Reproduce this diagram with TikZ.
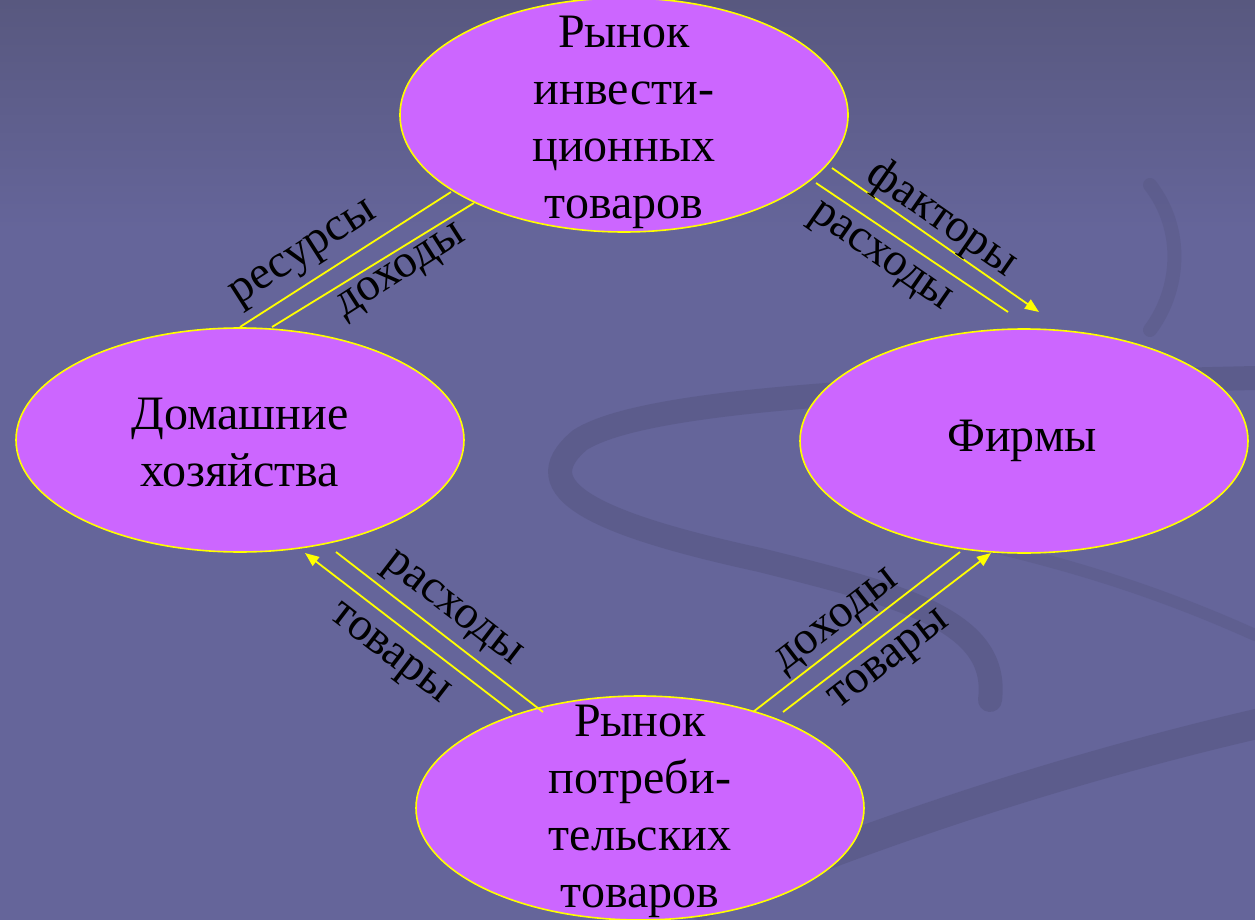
\documentclass[tikz,border=0pt]{standalone}
\usepackage{fontspec}
\setmainfont{Liberation Serif}
\usetikzlibrary{shapes.geometric,arrows.meta}
\definecolor{bgtop}{HTML}{58587F}
\definecolor{bgmid}{HTML}{65659A}
\definecolor{swirl}{HTML}{52527C}
\definecolor{oval}{HTML}{CC66FF}
\definecolor{ylw}{HTML}{FFFF00}
\tikzset{
  market/.style={ellipse, draw=ylw, line width=1.6pt, fill=oval, inner sep=0pt,
    minimum width=448pt, minimum height=224pt},
  txt/.style={align=center, font=\fontsize{48}{57}\selectfont, text=black, inner sep=0pt},
  lbl/.style={font=\fontsize{47}{55}\selectfont, text=black, inner sep=0pt},
  flow/.style={draw=ylw, line width=1.8pt},
  flowarr/.style={flow, -{Triangle[length=14pt,width=11pt]}},
}
\begin{document}
\begin{tikzpicture}[x=1pt,y=-1pt]
\useasboundingbox (0,0) rectangle (1255,920);
% background
\shade[top color=bgtop, bottom color=bgmid, middle color=bgmid, shading angle=0] (0,0) rectangle (1255,460);
\fill[bgmid] (0,459) rectangle (1255,920);
% decorative swirl
\begin{scope}[line cap=round]
\draw[swirl, line width=24pt, opacity=0.45] (1255,378) .. controls (950,385) and (650,395) .. (580,440)
   .. controls (520,490) and (600,525) .. (760,560) .. controls (900,595) and (1000,620) .. (990,700);
\draw[swirl, line width=14pt, opacity=0.3] (1150,185) .. controls (1185,230) and (1180,290) .. (1150,330);
\draw[swirl, line width=30pt, opacity=0.45] (700,905) .. controls (900,820) and (1100,760) .. (1265,722);
\draw[swirl, line width=12pt, opacity=0.3] (1255,635) .. controls (1100,565) and (980,545) .. (900,525);
\end{scope}
% ovals
\node[market, minimum height=234pt] (inv) at (624,115) {};
\node[market] (hh) at (240,440) {};
\node[market] (firm) at (1024,441) {};
\node[market] (cons) at (640,808) {};
% oval texts
\node[txt] (invt) at (624,122) {Рынок\\инвести-\\ционных\\товаров};
\node[txt] (hht) at (240,443) {Домашние\\хозяйства};
\node[txt] (firmt) at (1022,441) {Фирмы};
\node[txt] (const) at (640,811) {Рынок\\потреби-\\тельских\\товаров};
% connector end points
\coordinate (a1) at (240,327); \coordinate (a2) at (451,192);
\coordinate (b1) at (272,327); \coordinate (b2) at (474,203);
\coordinate (c1) at (832,168); \coordinate (c2) at (1039,312);
\coordinate (d1) at (816,183); \coordinate (d2) at (1008,312);
\coordinate (e1) at (512,712); \coordinate (e2) at (305,553);
\coordinate (f1) at (543,712); \coordinate (f2) at (336,552);
\coordinate (g1) at (753,712); \coordinate (g2) at (960,552);
\coordinate (h1) at (783,712); \coordinate (h2) at (991,553);
% connectors
\draw[flow] (a1) -- (a2);
\draw[flow] (b1) -- (b2);
\draw[flowarr] (c1) -- (c2);
\draw[flow] (d1) -- (d2);
\draw[flowarr] (e1) -- (e2);
\draw[flow] (f1) -- (f2);
\draw[flow] (g1) -- (g2);
\draw[flowarr] (h1) -- (h2);
% labels
\node[lbl, rotate=32.6] (l1) at (305,256) {ресурсы};
\node[lbl, rotate=32.6] (l2) at (402,273) {доходы};
\node[lbl, rotate=-34.8] (l3) at (942,219) {факторы};
\node[lbl, rotate=-34.8] (l4) at (879,259) {расходы};
\node[lbl, rotate=-37.5] (l5) at (451,611) {расходы};
\node[lbl, rotate=-37.5] (l6) at (388,656) {товары};
\node[lbl, rotate=37.7] (l7) at (838,623) {доходы};
\node[lbl, rotate=37.7] (l8) at (891,662) {товары};
\end{tikzpicture}
\end{document}
